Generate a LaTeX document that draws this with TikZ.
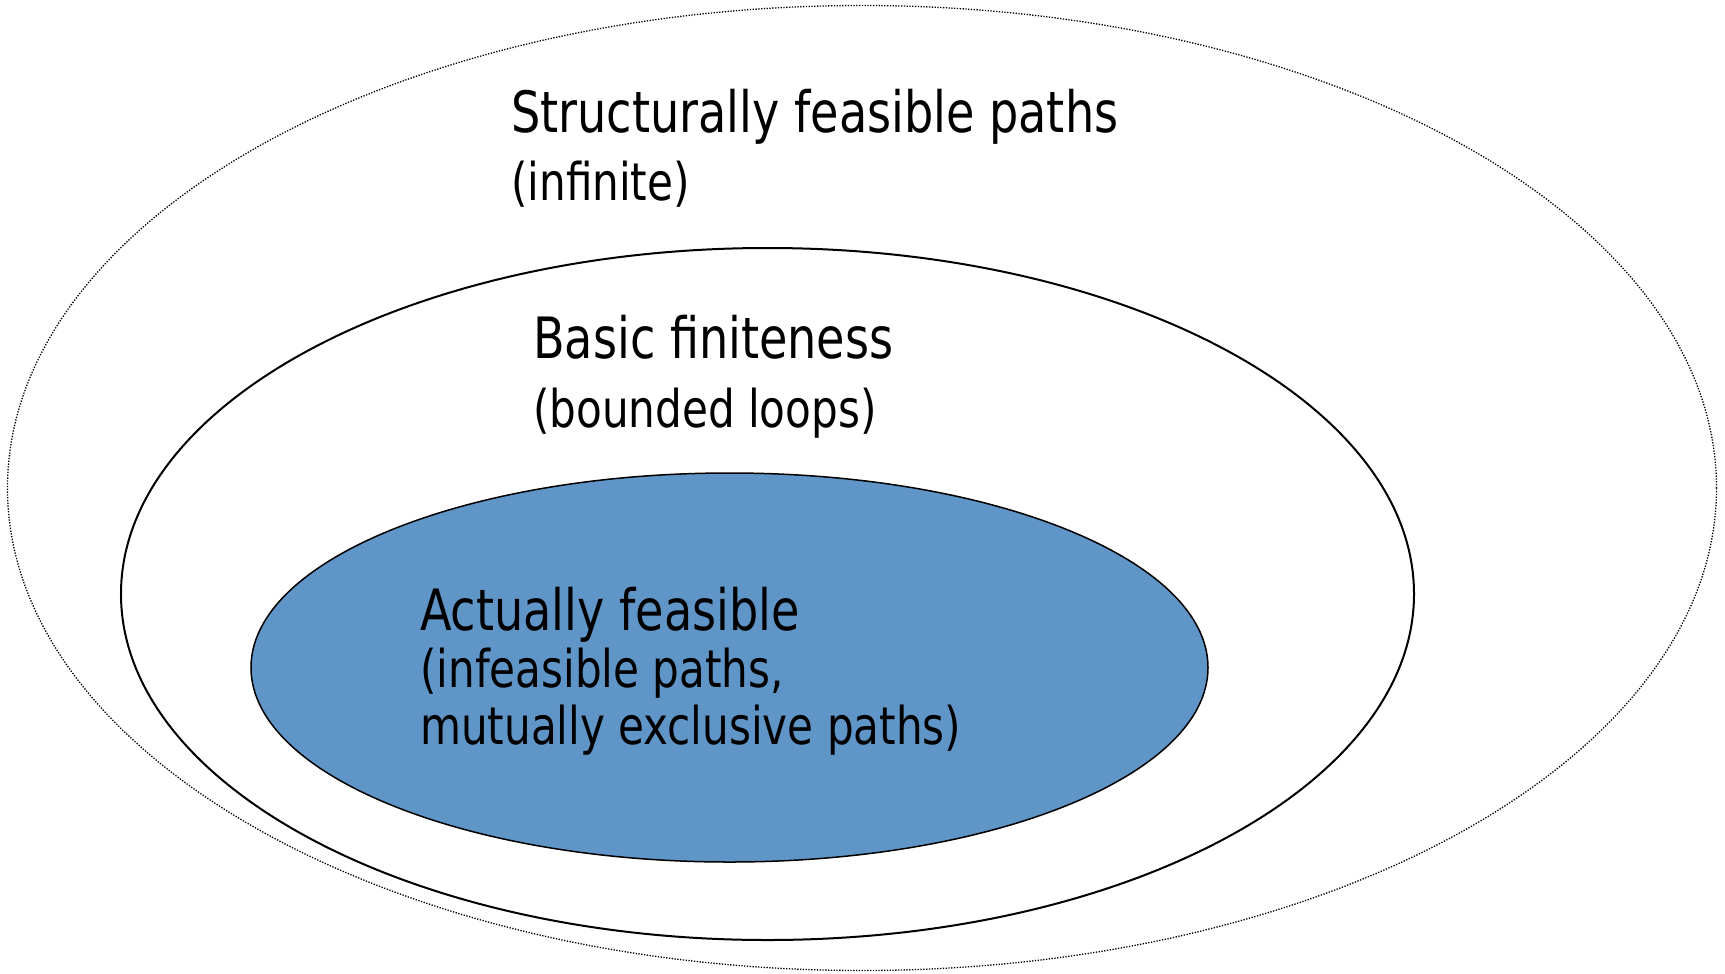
\documentclass[tikz,border=0pt]{standalone}
\usepackage{fontspec}
\setmainfont[FakeStretch=0.9]{DejaVu Sans Condensed}
\usetikzlibrary{shapes,positioning}
\definecolor{setblue}{RGB}{96,149,200}
\tikzset{
outerset/.style={ellipse, draw=black, line width=1.3bp, dash pattern=on 1.3bp off 1.5bp, minimum width=1709bp, minimum height=965bp},
midset/.style={ellipse, draw=black, line width=2bp, minimum width=1293bp, minimum height=692bp},
innerset/.style={ellipse, draw=black, line width=1.5bp, fill=setblue, minimum width=957bp, minimum height=389bp},
label/.style={anchor=base west, align=left, inner sep=0pt},
}
\newcommand{\headfont}{\fontsize{57bp}{57bp}\selectfont}

\begin{document}
\begin{tikzpicture}[x=1bp, y=1bp]

    \useasboundingbox (0,0) rectangle (1725,-973);

    \node[outerset] (outer) at(862, -488)  {};
    \node[midset] (mid) at(767.5, -594)  {};
    \node[innerset] (inner) at(729.5, -667.5)  {};

    \node[label, font=\fontsize{52bp}{68bp}\selectfont] (lout) at(511, -200)  {{\headfont Structurally feasible paths}\\(infinite)};
    \node[label, font=\fontsize{52bp}{69bp}\selectfont] (lmid) at(533, -427)  {{\headfont Basic finiteness}\\(bounded loops)};
    \node[label, font=\fontsize{52bp}{57bp}\selectfont] (lin) at(420, -744)  {{\headfont Actually feasible}\\(infeasible paths,\\mutually exclusive paths)};

\end{tikzpicture}
\end{document}
